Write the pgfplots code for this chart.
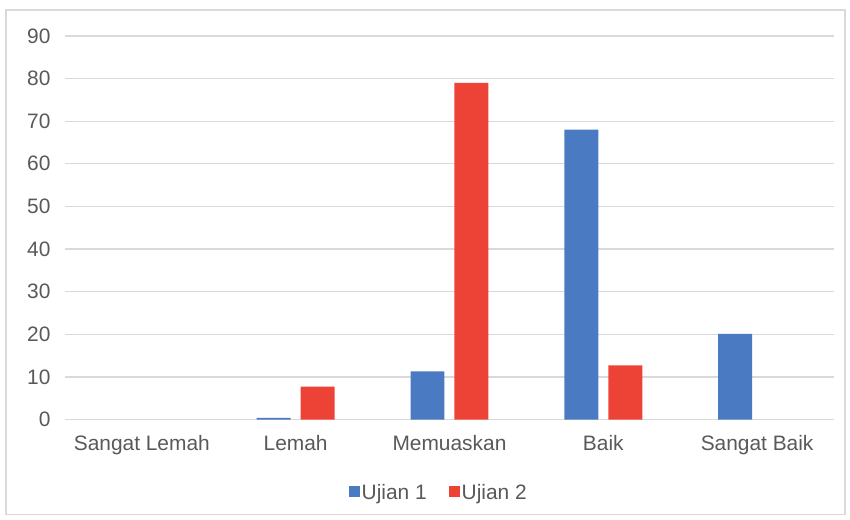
\documentclass[border=0pt]{standalone}
\usepackage{pgfplots}
\pgfplotsset{compat=1.18}
\usepackage{fontspec}
\setmainfont{Liberation Sans}
\definecolor{ujA}{HTML}{4A7BC2}
\definecolor{ujB}{HTML}{EC4336}
\definecolor{txt}{HTML}{595959}
\definecolor{grd}{HTML}{D9D9D9}
\begin{document}
\begin{tikzpicture}
\begin{axis}[
    name=ax,
    scale only axis,
    width=770bp, height=384bp,
    ybar=10bp, bar width=34bp,
    xmin=-0.5, xmax=4.5,
    ymin=0, ymax=90,
    ytick={0,10,...,90},
    xtick={0,1,2,3,4},
    xticklabels={Sangat Lemah,Lemah,Memuaskan,Baik,Sangat Baik},
    axis line style={draw=none},
    ymajorgrids=true,
    grid style={grd, line width=1.3bp},
    major tick length=0pt,
    tick label style={font=\fontsize{21}{25}\selectfont, text=txt},
    yticklabel style={xshift=-11bp},
    xticklabel style={yshift=-12bp},
    /pgf/number format/assume math mode=true,
    legend style={at={(0.486,-0.19)}, anchor=center, draw=none,
        legend columns=-1, font=\fontsize{21}{25}\selectfont, text=txt,
        /tikz/every even column/.append style={column sep=20bp}},
    legend image code/.code={\fill[#1] (0bp,-5bp) rectangle (11bp,6bp);},
]
\addplot[fill=ujA, draw=none] coordinates {(1,0.4) (2,11.3) (3,68) (4,20.1)};
\addlegendentry{Ujian 1}
\addplot[fill=ujB, draw=none] coordinates {(1,7.7) (2,79) (3,12.7)};
\addlegendentry{Ujian 2}
\end{axis}
\draw[grd, line width=1.5bp] ([shift={(-59bp,-95bp)}]ax.south west) rectangle ([shift={(11bp,26bp)}]ax.north east);
\useasboundingbox ([shift={(-65bp,-100bp)}]ax.south west) rectangle ([shift={(16bp,36bp)}]ax.north east);
\end{tikzpicture}
\end{document}
